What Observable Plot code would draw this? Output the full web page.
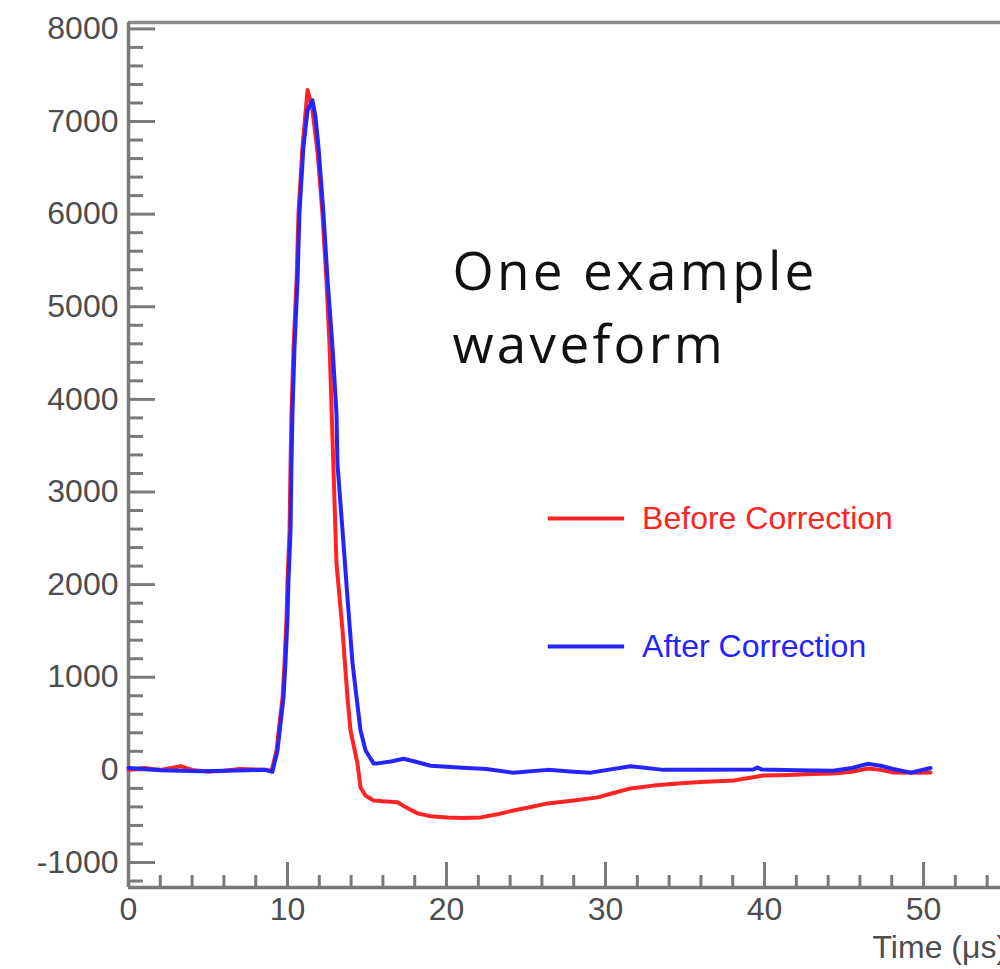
<!DOCTYPE html>
<html>
<head>
<meta charset="utf-8">
<script src="https://cdn.jsdelivr.net/npm/d3@7"></script>
<script src="https://cdn.jsdelivr.net/npm/@observablehq/plot@0.6"></script>
<style>
  html, body { margin: 0; padding: 0; background: white; overflow: hidden; }
</style>
</head>
<body>
<div id="chart"></div>
<script>
// ---- data ----
const seriesNames = ["Before Correction", "After Correction"];
const seriesColors = ["#ff2424", "#2424ff"];

const beforeT = [0, 1, 2, 3.3, 4, 5, 6, 7, 8.6, 9.0, 9.31, 9.5, 9.69, 9.81, 9.94, 10.0, 10.13, 10.19, 10.25, 10.38, 10.57, 10.69, 10.94, 11.26,
  11.55, 11.9, 12.2, 12.45, 12.65, 12.78, 12.88, 13.08, 13.46, 13.77, 13.96, 14.4, 14.59, 14.9, 15.41, 16.0, 16.92, 17.5, 18.18, 19.0, 20.06, 21.0, 22.14,
  23.2, 24.21, 25.3, 26.35, 28.0, 29.5, 30.5, 31.57, 33.0, 34.53, 36.0, 38.05, 39.94, 41.5, 43.0, 44.34, 45.5, 46.48, 47.3, 48.11, 49.2, 50.44];
const beforeV = [0, 20, 0, 40, 0, -20, -10, 10, 0, -10, 209, 500, 784, 1150, 1646, 2045, 2585, 3308, 3849, 4560, 5284, 6007, 6720, 7340,
  7150, 6650, 6000, 5284, 4560, 3849, 3308, 2228, 1505, 784, 428, 70, -190, -276, -330, -340, -350, -410, -470, -500, -513, -520, -513,
  -480, -438, -400, -362, -330, -297, -250, -200, -170, -146, -130, -114, -60, -55, -45, -39, -20, 15, 0, -28, -30, -28];

const afterT = [0, 1, 2, 3.3, 4.5, 6, 7.5, 8.6, 9.05, 9.37, 9.56, 9.75, 9.87, 10.0, 10.06, 10.19, 10.25, 10.31, 10.44, 10.63, 10.75, 11.0, 11.26, 11.57,
  11.76, 11.95, 12.26, 12.52, 12.83, 13.08, 13.14, 13.46, 13.77, 14.09, 14.34, 14.59, 14.91, 15.41, 15.66, 16.5, 17.3, 18.0, 19.0, 21.0, 22.5,
  24.2, 26.35, 28.0, 29.06, 31.57, 33.65, 36.0, 39.3, 39.56, 39.8, 42.0, 44.3, 45.5, 46.48, 47.3, 48.1, 49.2, 50.44];
const afterV = [20, 10, -5, -10, -15, -10, -5, 0, -20, 209, 500, 784, 1150, 1646, 2045, 2585, 3308, 3849, 4560, 5284, 6007, 6720, 7120, 7228,
  7050, 6720, 6007, 5284, 4560, 3849, 3308, 2585, 1862, 1150, 784, 428, 209, 70, 70, 90, 120, 90, 45, 22, 10,
  -30, 0, -20, -30, 40, 0, 0, 5, 25, 5, -5, -10, 20, 65, 45, 10, -30, 20];

const majorX = [0, 10, 20, 30, 40, 50];
const minorX = [2, 4, 6, 8, 12, 14, 16, 18, 22, 24, 26, 28, 32, 34, 36, 38, 42, 44, 46, 48, 52, 54];
const majorY = [-1000, 0, 1000, 2000, 3000, 4000, 5000, 6000, 7000, 8000];
const minorY = [-1200, -800, -600, -400, -200, 200, 400, 600, 800, 1200, 1400, 1600, 1800, 2200, 2400, 2600, 2800,
  3200, 3400, 3600, 3800, 4200, 4400, 4600, 4800, 5200, 5400, 5600, 5800, 6200, 6400, 6600, 6800, 7200, 7400, 7600, 7800];

const xLabel = "Time (μs)";
const annotation = "One example\nwaveform";

// ---- build table ----
const rows = [
  ...beforeT.map((t, i) => ({series: seriesNames[0], t, v: beforeV[i]})),
  ...afterT.map((t, i) => ({series: seriesNames[1], t, v: afterV[i]}))
];

// ---- layout / style ----
const X_DOMAIN = [0, 54.84];
const Y_DOMAIN = [-1270, 8069];
const AXIS = "#7a7a7a";
const LABEL = "#4d4d4d";
const TICK_FONT = "'Liberation Sans', Arial, Helvetica, sans-serif";
const legendY = [2714, 1332];
const legendX1 = 26.4, legendX2 = 31.2, legendTextX = 32.3;

const chart = Plot.plot({
  width: 1000,
  height: 969,
  marginLeft: 128,
  marginRight: 0,
  marginTop: 22,
  marginBottom: 82,
  x: {domain: X_DOMAIN, axis: null},
  y: {domain: Y_DOMAIN, axis: null},
  color: {domain: seriesNames, range: seriesColors},
  style: {fontFamily: TICK_FONT, background: "white", overflow: "hidden"},
  marks: [
    // frame lines
    Plot.ruleY([Y_DOMAIN[1]], {stroke: "#8a8a8a", strokeWidth: 3.5}),
    Plot.ruleX([X_DOMAIN[0]], {stroke: AXIS, strokeWidth: 3.5}),
    Plot.ruleY([Y_DOMAIN[0]], {stroke: AXIS, strokeWidth: 3.5}),
    // y axis ticks & labels
    Plot.axisY(minorY, {anchor: "left", tickSize: -15, fill: "none", stroke: AXIS, strokeWidth: 3, label: null}),
    Plot.axisY(majorY, {anchor: "left", tickSize: -27, tickPadding: 37, stroke: AXIS, strokeWidth: 3,
      fill: LABEL, fontSize: 32, tickFormat: d => String(d), label: null}),
    // x axis ticks & labels
    Plot.axisX(minorX, {anchor: "bottom", tickSize: -12, fill: "none", stroke: AXIS, strokeWidth: 3, label: null}),
    Plot.axisX(majorX, {anchor: "bottom", tickSize: -25, tickPadding: 35, stroke: AXIS, strokeWidth: 3,
      fill: LABEL, fontSize: 32, tickFormat: d => String(d), label: null}),
    Plot.text([xLabel], {frameAnchor: "bottom-left", dx: 744, dy: 70, textAnchor: "start", lineAnchor: "bottom",
      fill: LABEL, fontSize: 32}),
    // waveforms
    Plot.line(rows, {x: "t", y: "v", z: "series", stroke: "series", strokeWidth: 4, curve: "linear"}),
    // legend
    Plot.ruleY(seriesNames, {y: (d, i) => legendY[i], x1: legendX1, x2: legendX2, stroke: (d) => d, strokeWidth: 4}),
    Plot.text(seriesNames, {x: legendTextX, y: (d, i) => legendY[i], text: d => d, fill: d => d, textAnchor: "start",
      fontSize: 32}),
    // annotation
    Plot.text([annotation], {frameAnchor: "top-left", dx: 324, dy: 216, textAnchor: "start", lineAnchor: "top",
      fontFamily: "'Open Sans', sans-serif", fontSize: 53, lineHeight: 1.377, fill: "#111"})
  ]
});
// widen the annotation's letter spacing (as in the reference)
d3.select(chart).selectAll("text")
  .filter(function() { return this.textContent.includes("example"); })
  .style("letter-spacing", "3.3px");
document.getElementById("chart").appendChild(chart);
</script>
</body>
</html>
